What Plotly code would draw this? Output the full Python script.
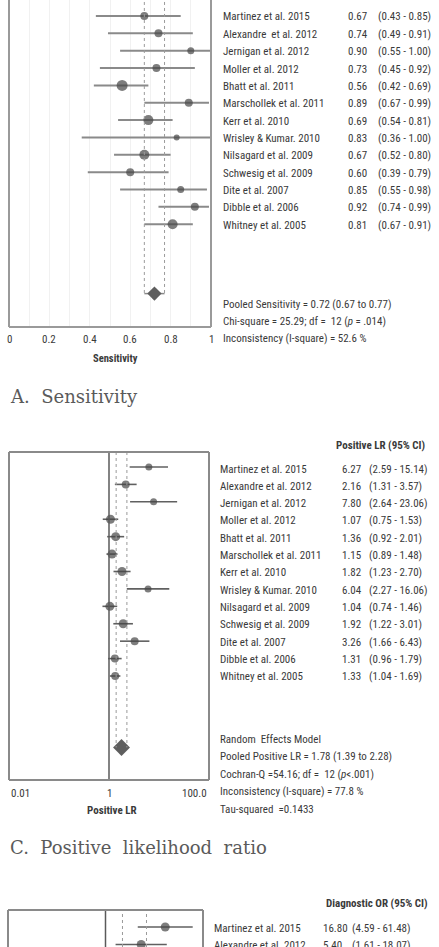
import math
import plotly.graph_objects as go

# ---------------- data ----------------
studies = ["Martinez et al. 2015", "Alexandre  et al. 2012", "Jernigan et al. 2012",
           "Moller et al. 2012", "Bhatt et al. 2011", "Marschollek et al. 2011",
           "Kerr et al. 2010", "Wrisley & Kumar. 2010", "Nilsagard et al. 2009",
           "Schwesig et al. 2009", "Dite et al. 2007", "Dibble et al. 2006",
           "Whitney et al. 2005"]

sens = [0.67, 0.74, 0.90, 0.73, 0.56, 0.89, 0.69, 0.83, 0.67, 0.60, 0.85, 0.92, 0.81]
sens_lo = [0.43, 0.49, 0.55, 0.45, 0.42, 0.67, 0.54, 0.36, 0.52, 0.39, 0.55, 0.74, 0.67]
sens_hi = [0.85, 0.91, 1.00, 0.92, 0.69, 0.99, 0.81, 1.00, 0.80, 0.79, 0.98, 0.99, 0.91]
sens_pooled = 0.72
sens_pooled_lo = 0.67
sens_pooled_hi = 0.77
sens_sizes = [8, 8, 7, 8, 11, 8, 10, 6, 10, 8, 7, 8, 10]
sens_ticks = [0, 0.2, 0.4, 0.6, 0.8, 1]
sens_tick_text = ["0", "0.2", "0.4", "0.6", "0.8", "1"]
sens_stats = ["Pooled Sensitivity = 0.72 (0.67 to 0.77)",
              "Chi-square = 25.29; df =  12 (<i>p</i> = .014)",
              "Inconsistency (I-square) = 52.6 %"]

plr = [6.27, 2.16, 7.80, 1.07, 1.36, 1.15, 1.82, 6.04, 1.04, 1.92, 3.26, 1.31, 1.33]
plr_lo = [2.59, 1.31, 2.64, 0.75, 0.92, 0.89, 1.23, 2.27, 0.74, 1.22, 1.66, 0.96, 1.04]
plr_hi = [15.14, 3.57, 23.06, 1.53, 2.01, 1.48, 2.70, 16.06, 1.46, 3.01, 6.43, 1.79, 1.69]
plr_pooled = 1.78
plr_pooled_lo = 1.39
plr_pooled_hi = 2.28
plr_sizes = [7, 8, 7, 9, 9, 9, 9, 7, 9, 9, 8, 8, 8]
plr_tick_vals = [0.01, 1, 100]
plr_tick_text = ["0.01", "1", "100.0"]
plr_stats = ["Random  Effects Model",
             "Pooled Positive LR = 1.78 (1.39 to 2.28)",
             "Cochran-Q =54.16; df =  12 (<i>p</i>&lt;.001)",
             "Inconsistency (I-square) = 77.8 %",
             "Tau-squared  =0.1433"]

dor_studies = ["Martinez et al. 2015", "Alexandre et al. 2012"]
dor = [16.80, 5.40]
dor_lo = [4.59, 1.61]
dor_hi = [61.48, 18.07]
dor_pooled_lo = 2.23
dor_pooled_hi = 6.93
dor_sizes = [9, 9]

# ---------------- styling helpers ----------------
W, H = 439, 947
NARROW = "Liberation Sans Narrow, Arial Narrow, Roboto Condensed, Liberation Sans, sans-serif"
SERIF = "DejaVu Serif, serif"
TXT = "#3a3a3a"
MK = "#464646"
FS = 11


def px(x):
    return x / W


def py(y):
    return 1 - y / H


def txt(x, y, t, anchor="left", size=FS, xref="paper", family=NARROW, color=TXT):
    return dict(x=x, y=y, xref=xref, yref="paper", text=t, showarrow=False,
                xanchor=anchor, yanchor="middle",
                font=dict(family=family, size=size, color=color))


rows = list(range(len(studies)))
fig = go.Figure()
ann = []
shapes = []

# ================= Panel A: Sensitivity =================
fig.add_trace(go.Scatter(
    x=sens, y=rows, mode="markers", xaxis="x", yaxis="y",
    marker=dict(color=MK, size=sens_sizes, line=dict(width=0)),
    error_x=dict(type="data", symmetric=False,
                 array=[h - v for h, v in zip(sens_hi, sens)],
                 arrayminus=[v - l for v, l in zip(sens, sens_lo)],
                 color="#8a8a8a", thickness=2, width=0),
    showlegend=False, hoverinfo="skip"))
fig.add_trace(go.Scatter(
    x=[sens_pooled], y=[16], mode="markers", xaxis="x", yaxis="y",
    marker=dict(color="#5e5e5e", size=11, symbol="diamond"),
    error_x=dict(type="data", symmetric=False,
                 array=[sens_pooled_hi - sens_pooled],
                 arrayminus=[sens_pooled - sens_pooled_lo],
                 color="#8a8a8a", thickness=1.5, width=0),
    showlegend=False, hoverinfo="skip"))
for v in (sens_pooled_lo, sens_pooled_hi):
    shapes.append(dict(type="line", xref="x", yref="y", x0=v, x1=v, y0=-1.5, y1=16,
                       line=dict(color="#9a9a9a", width=1, dash="dot")))
for s in [dict(x0=0, x1=0, y0=0, y1=1.01), dict(x0=1, x1=1, y0=0, y1=1.01),
          dict(x0=0, x1=1, y0=0, y1=0)]:
    shapes.append(dict(type="line", xref="x domain", yref="y domain",
                       line=dict(color="#9a9a9a", width=2), **s))
for v, t in zip(sens_ticks, sens_tick_text):
    ann.append(txt(v, py(339), t, anchor="center", xref="x"))
ann.append(txt(px(115), py(358), "<b>Sensitivity</b>", anchor="center", size=10.5))
for r, name, v, lo, hi in zip(rows, studies, sens, sens_lo, sens_hi):
    yy = py(17 + 17.35 * r)
    ann.append(txt(px(221), yy, name))
    ann.append(txt(px(346), yy, f"{v:.2f}"))
    ann.append(txt(px(376), yy, f"({lo:.2f} - {hi:.2f})"))
for i, t in enumerate(sens_stats):
    ann.append(txt(px(221), py(305 + 16.5 * i), t))
ann.append(txt(px(8), py(396), "A.\u00a0 Sensitivity", size=18, family=SERIF, color="#5a5a5a"))

# ================= Panel C: Positive LR =================
fig.add_trace(go.Scatter(
    x=plr, y=rows, mode="markers", xaxis="x2", yaxis="y2",
    marker=dict(color=MK, size=plr_sizes, line=dict(width=0)),
    error_x=dict(type="data", symmetric=False,
                 array=[h - v for h, v in zip(plr_hi, plr)],
                 arrayminus=[v - l for v, l in zip(plr, plr_lo)],
                 color="#606060", thickness=1.6, width=0),
    showlegend=False, hoverinfo="skip"))
fig.add_trace(go.Scatter(
    x=[plr_pooled], y=[16.1], mode="markers", xaxis="x2", yaxis="y2",
    marker=dict(color="#5e5e5e", size=13, symbol="diamond"),
    showlegend=False, hoverinfo="skip"))
for v in (plr_pooled_lo, plr_pooled_hi):
    shapes.append(dict(type="line", xref="x2", yref="y2", x0=v, x1=v, y0=-0.86, y1=16.1,
                       line=dict(color="#9a9a9a", width=1, dash="dot")))
shapes.append(dict(type="line", xref="x2", yref="y2 domain", x0=1, x1=1, y0=0, y1=1,
                   line=dict(color="#5a5a5a", width=1.5)))
for s in [dict(x0=0, x1=0, y0=0, y1=1), dict(x0=1, x1=1, y0=0, y1=1),
          dict(x0=0, x1=1, y0=0, y1=0), dict(x0=0, x1=1, y0=1, y1=1)]:
    shapes.append(dict(type="line", xref="x2 domain", yref="y2 domain",
                       line=dict(color="#8a8a8a", width=2), **s))
for v, t, anc in zip(plr_tick_vals, plr_tick_text, ["left", "center", "right"]):
    ann.append(txt(math.log10(v), py(793), t, anchor=anc, xref="x2"))
ann.append(txt(px(112), py(810), "<b>Positive LR</b>", anchor="center"))
ann.append(txt(px(334), py(445), "<b>Positive LR (95% CI)</b>"))
for r, name, v, lo, hi in zip(rows, studies, plr, plr_lo, plr_hi):
    yy = py(469 + 17.3 * r)
    ann.append(txt(px(218), yy, name.replace("  ", " ")))
    ann.append(txt(px(340), yy, f"{v:.2f}"))
    ann.append(txt(px(367), yy, f"({lo:.2f} - {hi:.2f})"))
for i, t in enumerate(plr_stats):
    ann.append(txt(px(218), py(739 + 17.5 * i), t))
ann.append(txt(px(8), py(847), "C.\u00a0 Positive\u00a0 likelihood\u00a0 ratio",
               size=18, family=SERIF, color="#5a5a5a"))

# ================= Panel E: Diagnostic OR (partially visible) =================
drows = list(range(len(dor)))
fig.add_trace(go.Scatter(
    x=dor, y=drows, mode="markers", xaxis="x3", yaxis="y3",
    marker=dict(color=MK, size=dor_sizes, line=dict(width=0)),
    error_x=dict(type="data", symmetric=False,
                 array=[h - v for h, v in zip(dor_hi, dor)],
                 arrayminus=[v - l for v, l in zip(dor, dor_lo)],
                 color="#606060", thickness=1.6, width=0),
    showlegend=False, hoverinfo="skip"))
for v in (dor_pooled_lo, dor_pooled_hi):
    shapes.append(dict(type="line", xref="x3", yref="y3 domain", x0=v, x1=v, y0=0, y1=1,
                       line=dict(color="#9a9a9a", width=1, dash="dot")))
shapes.append(dict(type="line", xref="x3", yref="y3 domain", x0=1, x1=1, y0=0, y1=1,
                   line=dict(color="#5a5a5a", width=1.5)))
for s in [dict(x0=0, x1=0, y0=-0.05, y1=1), dict(x0=1, x1=1, y0=-0.05, y1=1),
          dict(x0=0, x1=1, y0=1, y1=1)]:
    shapes.append(dict(type="line", xref="x3 domain", yref="y3 domain",
                       line=dict(color="#8a8a8a", width=2), **s))
ann.append(txt(px(324), py(903), "<b>Diagnostic OR (95% CI)</b>"))
for r, name, v, lo, hi in zip(drows, dor_studies, dor, dor_lo, dor_hi):
    yy = py(928 + 17.5 * r)
    ann.append(txt(px(212), yy, name))
    ann.append(txt(px(321), yy, f"{v:.2f}"))
    ann.append(txt(px(350), yy, f"({lo:.2f} - {hi:.2f})"))

hidden_y = dict(visible=False, showgrid=False, zeroline=False, fixedrange=True)
fig.update_layout(
    width=W, height=H, margin=dict(l=0, r=0, t=0, b=0),
    paper_bgcolor="white", plot_bgcolor="white",
    xaxis=dict(domain=[px(9), px(211)], range=[0, 1], anchor="y",
               tickvals=[i / 10 for i in range(11)], showticklabels=False,
               showgrid=True, gridcolor="#f1f1f1", gridwidth=1, zeroline=False, ticks=""),
    yaxis=dict(domain=[py(327), 1], range=[17.925, -0.922], anchor="x", **hidden_y),
    xaxis2=dict(domain=[px(9), px(209)], type="log", range=[-2, 2], anchor="y2",
                showticklabels=False, showgrid=False, zeroline=False, ticks=""),
    yaxis2=dict(domain=[py(780), py(452)], range=[17.97, -0.86], anchor="x2", **hidden_y),
    xaxis3=dict(domain=[px(8), px(203)], type="log", range=[-2, 2], anchor="y3",
                showticklabels=False, showgrid=False, zeroline=False, ticks=""),
    yaxis3=dict(domain=[0, py(910)], range=[1.14, -0.97], anchor="x3", **hidden_y),
    shapes=shapes, annotations=ann,
)
fig.write_html("out.html")
